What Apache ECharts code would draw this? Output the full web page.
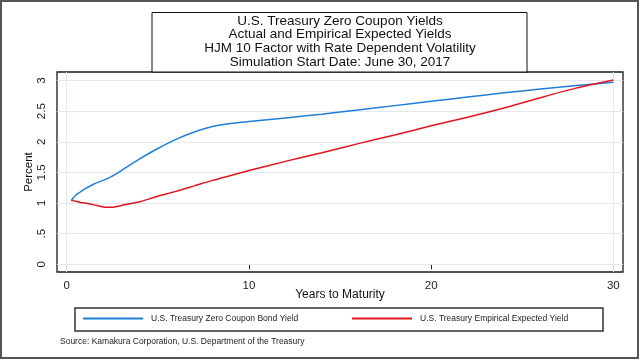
<!DOCTYPE html>
<html>
<head>
<meta charset="utf-8">
<script src="https://cdn.jsdelivr.net/npm/echarts@6/dist/echarts.min.js"></script>
<style>
html,body{margin:0;padding:0;background:#fff;}
#chart{width:640px;height:360px;}
</style>
</head>
<body>
<div id="chart"></div>
<script>
var titleLines = ['U.S. Treasury Zero Coupon Yields','Actual and Empirical Expected Yields','HJM 10 Factor with Rate Dependent Volatility','Simulation Start Date: June 30, 2017'];
var seriesNames = ['U.S. Treasury Zero Coupon Bond Yield','U.S. Treasury Empirical Expected Yield'];
var maturities = [0.25,0.5,0.75,1,1.5,2,2.5,3,4,5,6,7,8,9,10,12,14,16,18,20,22,24,26,28,30];
var zeroCouponYield = [1.04,1.13,1.18,1.23,1.31,1.37,1.44,1.53,1.72,1.89,2.04,2.16,2.25,2.30,2.33,2.39,2.45,2.52,2.59,2.66,2.73,2.80,2.86,2.92,2.97];
var expectedYield = [1.04,1.03,1.01,1.00,0.97,0.935,0.93,0.96,1.02,1.11,1.19,1.28,1.37,1.45,1.53,1.68,1.82,1.97,2.11,2.26,2.40,2.55,2.72,2.88,3.01];
var xTicks = [0,10,20,30];
var yTicks = [0,0.5,1,1.5,2,2.5,3];
var xGridValues = [0,30];
var sourceText = 'Source: Kamakura Corporation, U.S. Department of the Treasury';

function pairs(xs, ys){ return xs.map(function(x,i){ return [x, ys[i]]; }); }
var FONT = '"Liberation Sans", Arial, sans-serif';
var gridLineStyle = {color:'#e3e9ef', width:1, type:'solid'};
var BLUE = '#1f7fd9', RED = '#e3141c';

var chart = echarts.init(document.getElementById('chart'), null, {renderer:'canvas'});
chart.setOption({
  animation:false,
  backgroundColor:'#fff',
  textStyle:{fontFamily:FONT},
  title:[
    {text:titleLines.join('\n'), left:340, top:14, textAlign:'center', padding:0,
     textStyle:{fontFamily:FONT, fontSize:13.5, lineHeight:13.7, fontWeight:'normal', color:'#111'}},
    {text:sourceText, left:60, top:337, padding:0,
     textStyle:{fontFamily:FONT, fontSize:8.5, fontWeight:'normal', color:'#222'}}
  ],
  graphic:[
    {type:'rect', shape:{x:1, y:1, width:637, height:357}, style:{fill:'none', stroke:'#555', lineWidth:2}, z:100},
    {type:'rect', shape:{x:152, y:12.5, width:375, height:59.5}, style:{fill:'#fff', stroke:'#111', lineWidth:1}, z:0},
    {type:'rect', shape:{x:75, y:308, width:528, height:23}, style:{fill:'none', stroke:'#333', lineWidth:1.5}, z:100}
  ],
  legend:[
    {data:[seriesNames[0]], left:83, top:314, padding:0, itemWidth:60, itemHeight:2, icon:'rect',
     itemStyle:{color:BLUE},
     textStyle:{fontFamily:FONT, fontSize:8.5, color:'#222', padding:[0,0,0,3]}},
    {data:[seriesNames[1]], left:352, top:314, padding:0, itemWidth:60, itemHeight:2, icon:'rect',
     itemStyle:{color:RED},
     textStyle:{fontFamily:FONT, fontSize:8.5, color:'#222', padding:[0,0,0,3]}}
  ],
  grid:{left:57, top:72, right:17, bottom:88, show:true, borderColor:'#1a1a1a', borderWidth:1.3, backgroundColor:'#fff'},
  xAxis:{
    type:'value', min:-0.532, max:30.53,
    name:'Years to Maturity', nameLocation:'middle', nameGap:17, nameMoveOverlap:false,
    nameTextStyle:{fontFamily:FONT, fontSize:12, color:'#111'},
    axisLine:{show:false},
    axisTick:{show:true, length:5, customValues:xTicks, lineStyle:{color:'#222', width:1}},
    axisLabel:{customValues:xTicks, margin:8, fontFamily:FONT, fontSize:11.5, color:'#222'},
    splitLine:{show:false}
  },
  yAxis:{
    type:'value', min:-0.126, max:3.139,
    name:'Percent', nameLocation:'middle', nameGap:22, nameRotate:90, nameMoveOverlap:false,
    nameTextStyle:{fontFamily:FONT, fontSize:11.5, color:'#111'},
    axisLine:{show:false},
    axisTick:{show:true, length:5, customValues:yTicks, lineStyle:{color:'#222', width:1}},
    axisLabel:{customValues:yTicks, margin:9, rotate:90, fontFamily:FONT, fontSize:11.5, color:'#222',
      formatter:function(v){ return v===0 ? '0' : String(v).replace(/^0\./,'.'); }},
    splitLine:{show:false}
  },
  series:[
    {type:'line', name:'grid', data:[], z:1, silent:true,
     markLine:{silent:true, symbol:'none', label:{show:false}, lineStyle:gridLineStyle, animation:false, z:1,
       data: yTicks.map(function(v){return {yAxis:v};}).concat(xGridValues.map(function(v){return {xAxis:v};}))}},
    {type:'line', name:seriesNames[0], data:pairs(maturities, zeroCouponYield), showSymbol:false, symbol:'none',
     smooth:0.2, z:10, lineStyle:{color:BLUE, width:1.5}, itemStyle:{color:BLUE}},
    {type:'line', name:seriesNames[1], data:pairs(maturities, expectedYield), showSymbol:false, symbol:'none',
     smooth:0.2, z:11, lineStyle:{color:RED, width:1.5}, itemStyle:{color:RED}}
  ]
});
</script>
</body>
</html>
